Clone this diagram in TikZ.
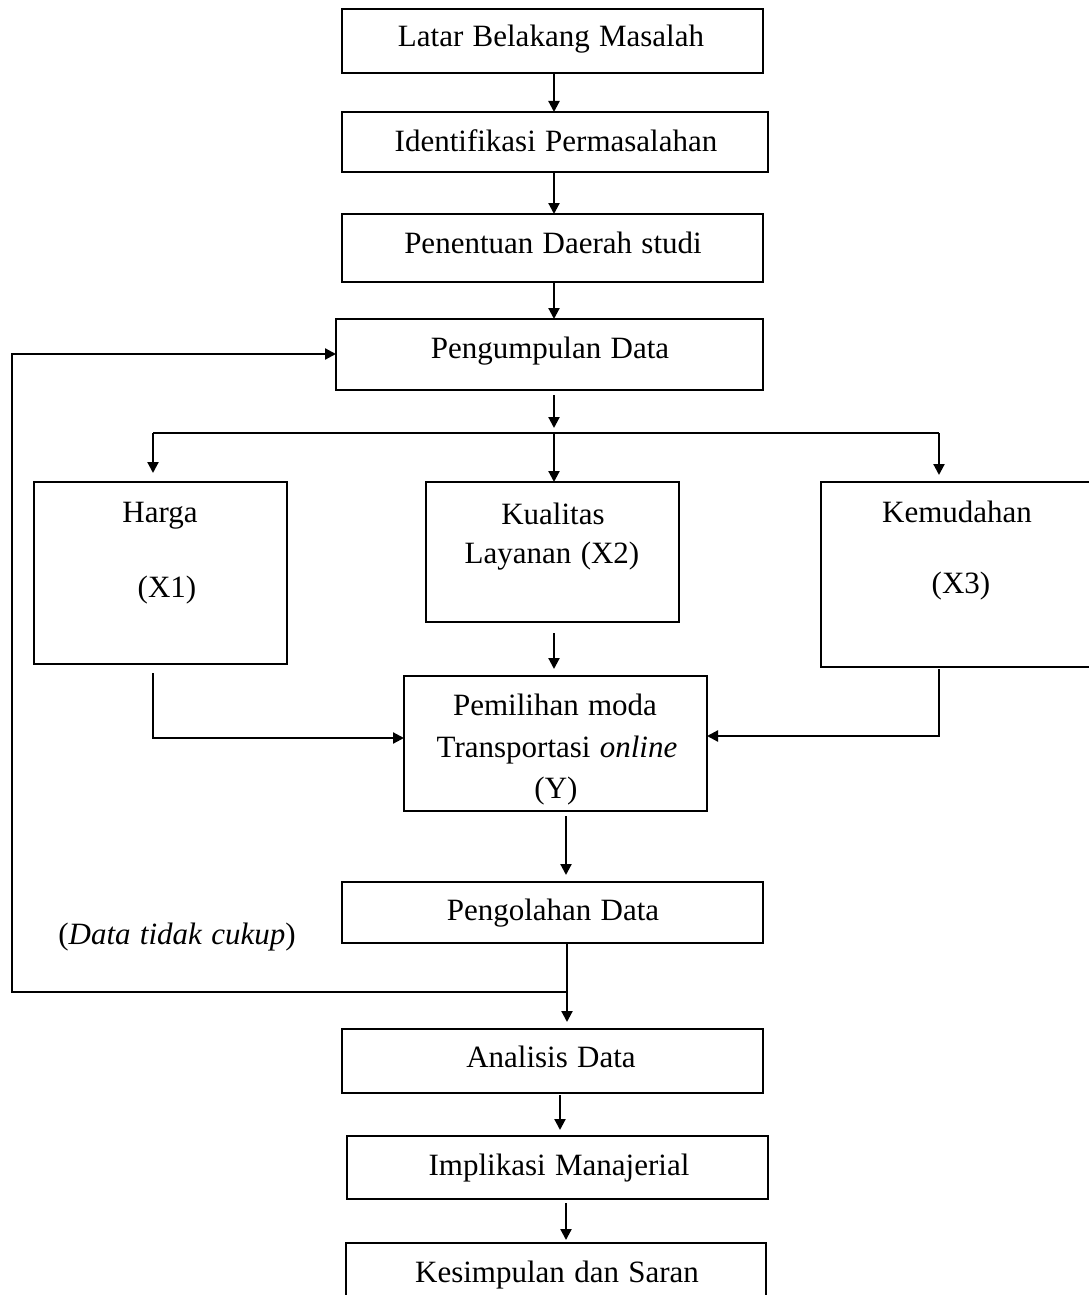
\documentclass[tikz,border=0pt]{standalone}
\usepackage{fontspec}
\setmainfont{Liberation Serif}
\usetikzlibrary{arrows.meta}
\newcommand\mywordsp{\spaceskip=0.3em\relax}
\begin{document}
\begin{tikzpicture}[x=1pt,y=-1pt,
  box/.style={draw, line width=2.2pt, inner sep=0pt, outer sep=0pt},
  lbl/.style={anchor=base, inner sep=0pt, font=\fontsize{31}{36}\selectfont\mywordsp},
  ln/.style={line width=2.2pt},
  arr/.style={line width=2.2pt, -{Triangle[length=11pt,width=11pt]}}]
\useasboundingbox (0,0) rectangle (1088,1295);
% boxes
\node[box, minimum width=421, minimum height=64] (b1) at (552.5,41) {};
\node[box, minimum width=426, minimum height=60] (b2) at (555,142) {};
\node[box, minimum width=421, minimum height=68] (b3) at (552.5,248) {};
\node[box, minimum width=427, minimum height=71] (b4) at (549.5,354.5) {};
\node[box, minimum width=253, minimum height=182] (harga) at (160.5,573) {};
\node[box, minimum width=253, minimum height=140] (kual) at (552.5,552) {};
\node[box, minimum width=274, minimum height=185] (kemu) at (958,574.5) {};
\node[box, minimum width=303, minimum height=135] (pem) at (555.5,743.5) {};
\node[box, minimum width=421, minimum height=61] (peng) at (552.5,912.5) {};
\node[box, minimum width=421, minimum height=64] (anal) at (552.5,1061) {};
\node[box, minimum width=421, minimum height=63] (impl) at (557.5,1167.5) {};
\node[box, minimum width=420, minimum height=67] (kes) at (556,1276.5) {};
% labels
\node[lbl] (t1) at (551,47) {Latar Belakang Masalah};
\node[lbl] (t2) at (556,151) {Identifikasi Permasalahan};
\node[lbl] (t3) at (553,253) {Penentuan Daerah studi};
\node[lbl] (t4) at (550,358) {Pengumpulan Data};
\node[lbl] (th1) at (160,522) {Harga};
\node[lbl] (th2) at (167,597) {(X1)};
\node[lbl] (tk1) at (553,524) {Kualitas};
\node[lbl] (tk2) at (552,563) {Layanan (X2)};
\node[lbl] (te1) at (957,522) {Kemudahan};
\node[lbl] (te2) at (961,593) {(X3)};
\node[lbl] (tp1) at (555,715) {Pemilihan moda};
\node[lbl] (tp2) at (557,757) {Transportasi \textit{online}};
\node[lbl] (tp3) at (556,798) {(Y)};
\node[lbl] (tg) at (553,920) {Pengolahan Data};
\node[lbl] (tdc) at (177,944) {(\textit{Data tidak cukup})};
\node[lbl] (ta) at (551,1067) {Analisis Data};
\node[lbl] (ti) at (559,1175) {Implikasi Manajerial};
\node[lbl] (ts) at (557,1282) {Kesimpulan dan Saran};
% coordinates
\coordinate (jn) at (554,433);
\coordinate (jl) at (153,433);
\coordinate (jr) at (939,433);
\coordinate (hc) at (153,738);
\coordinate (kc) at (939,736);
\coordinate (fb) at (567,992);
\coordinate (fl1) at (12,992);
\coordinate (fl2) at (12,354);
% connectors
\draw[arr] (b1.south -| 554,0) -- (b2.north -| 554,0);
\draw[arr] (b2.south -| 554,0) -- (b3.north -| 554,0);
\draw[arr] (b3.south -| 554,0) -- (b4.north -| 554,0);
\draw[arr, shorten <=5pt, shorten >=5pt] (b4.south -| jn) -- (jn);
\draw[ln] (jl) -- (jr);
\draw[arr, shorten >=9pt] (jl) -- (harga.north -| jl);
\draw[arr] (jn) -- (kual.north -| jn);
\draw[arr, shorten >=7pt] (jr) -- (kemu.north -| jr);
\draw[arr, shorten <=9pt] (harga.south -| hc) -- (hc) -- (pem.west |- hc);
\draw[arr, shorten <=2pt] (kemu.south -| kc) -- (kc) -- (pem.east |- kc);
\draw[arr, shorten <=11pt, shorten >=7pt] (kual.south -| 554,0) -- (pem.north -| 554,0);
\draw[arr, shorten <=5pt, shorten >=7pt] (pem.south -| 566,0) -- (peng.north -| 566,0);
\draw[arr, shorten >=7pt] (peng.south -| fb) -- (anal.north -| fb);
\draw[arr] (fb) -- (fl1) -- (fl2) -- (b4.west |- fl2);
\draw[arr, shorten <=2pt, shorten >=6pt] (anal.south -| 560,0) -- (impl.north -| 560,0);
\draw[arr, shorten <=4pt, shorten >=3pt] (impl.south -| 566,0) -- (kes.north -| 566,0);
\end{tikzpicture}
\end{document}
